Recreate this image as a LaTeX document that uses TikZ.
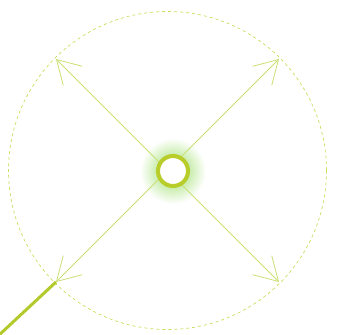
\documentclass[tikz,border=0pt]{standalone}
\usetikzlibrary{arrows.meta}
\definecolor{ringc}{HTML}{B8CC2A}
\definecolor{linec}{HTML}{CADF74}
\definecolor{dashc}{HTML}{CCDC5C}
\definecolor{glowc}{HTML}{94DC5E}
\definecolor{thickc}{HTML}{B4CA2C}
\tikzset{
  spoke/.style={draw=linec, line width=0.8pt, -{Straight Barb[length=23pt,width=27pt,line width=0.8pt]}},
  hub/.style={circle, draw=ringc, line width=4pt, fill=white, minimum size=30pt, inner sep=0pt},
  guide/.style={draw=dashc, line width=0.7pt, dash pattern=on 3pt off 3pt},
}
\begin{document}
\begin{tikzpicture}[x=1pt,y=-1pt]
\useasboundingbox (0,0) rectangle (338,335);
\coordinate (c) at (167.5,170.5);
\coordinate (tl) at (56,59);
\coordinate (tr) at (279,59);
\coordinate (bl) at (56,282);
\coordinate (br) at (279,282);
\coordinate (tail) at (-2,336);
\shade[inner color=glowc, outer color=white] (173,171) circle[radius=33];
\draw[guide] (c) circle[radius=159];
\draw[thickc, line width=3pt] (bl) -- (tail);
\draw[spoke] (c) -- (tl);
\draw[spoke] (c) -- (tr);
\draw[spoke] (c) -- (bl);
\draw[spoke] (c) -- (br);
\node[hub] (h) at (173,171) {};
\end{tikzpicture}
\end{document}
